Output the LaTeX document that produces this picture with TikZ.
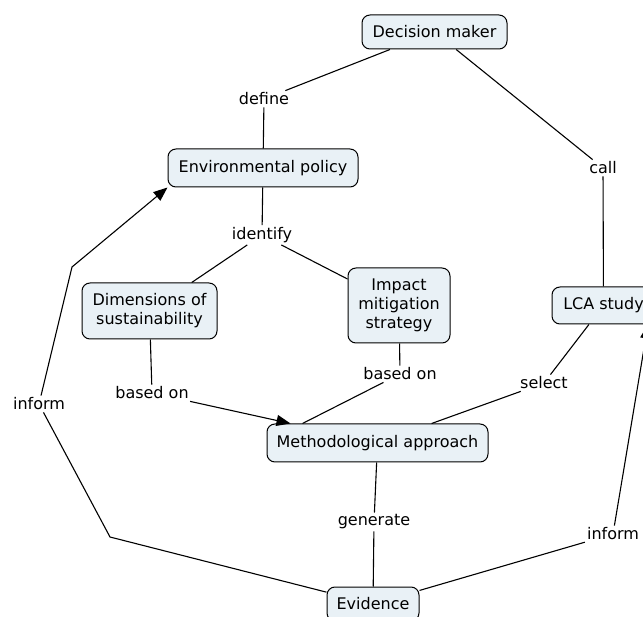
\documentclass[tikz,border=0pt]{standalone}
\usepackage{fontspec}
\setmainfont{DejaVu Sans}
\usetikzlibrary{arrows.meta}
\definecolor{boxfill}{RGB}{233,241,246}
\begin{document}
\begin{tikzpicture}[x=1pt,y=-1pt,
  concept/.style={draw=black, line width=1pt, fill=boxfill, rounded corners=8pt, inner sep=0pt, align=center, font=\fontsize{16}{19}\selectfont},
  lbl/.style={inner sep=2pt, font=\fontsize{16}{19}\selectfont},
  link/.style={line width=1.1pt, draw=black},
  arr/.style={link, -{Triangle[length=14pt,width=11pt]}}]
\useasboundingbox (0,0) rectangle (643,617);
% concepts
\node[concept, minimum width=145, minimum height=34] (dm) at (434.5,32) {Decision maker};
\node[concept, minimum width=190, minimum height=38] (ep) at (263,168) {Environmental policy};
\node[concept, minimum width=135, minimum height=56] (dim) at (149.5,311) {Dimensions of\\sustainability};
\node[concept, minimum width=102, minimum height=75] (ims) at (399,305.5) {Impact\\mitigation\\strategy};
\node[concept, minimum width=103, minimum height=37] (lca) at (603.5,305.5) {LCA study};
\node[concept, minimum width=221, minimum height=38] (ma) at (377.5,443) {Methodological approach};
\node[concept, minimum width=92, minimum height=34] (ev) at (373,604) {Evidence};
% link labels
\node[lbl] (define) at (264,99) {define};
\node[lbl] (identify) at (262,235) {identify};
\node[lbl] (call) at (603,168) {call};
\node[lbl] (basedL) at (152,393) {based on};
\node[lbl] (basedR) at (400,374) {based on};
\node[lbl] (select) at (544,383) {select};
\node[lbl] (informL) at (39,404) {inform};
\node[lbl] (generate) at (374,522) {generate};
\node[lbl] (informR) at (613,534) {inform};
% bend points and anchors
\coordinate (bendA) at (72,267);
\coordinate (bendB) at (110,537);
\coordinate (maL1) at ([xshift=24pt]ma.north west);
\coordinate (maL2) at ([xshift=36pt]ma.north west);
\coordinate (lcaIn) at ([xshift=44.5pt]lca.south);
% connectors
\draw[link] (dm) -- (define);
\draw[link] (define) -- (ep);
\draw[link] (ep) -- (identify);
\draw[link] (identify) -- (dim);
\draw[link] (identify) -- (ims);
\draw[link] (dm) -- (call);
\draw[link] (call) -- (lca);
\draw[link] (dim) -- (basedL);
\draw[arr] (basedL) -- (maL1);
\draw[link] (ims) -- (basedR);
\draw[link] (basedR) -- (maL2);
\draw[link] (lca) -- (select);
\draw[link] (select) -- (ma);
\draw[link] (ma) -- (generate);
\draw[link] (generate) -- (ev);
\draw[link] (ev) -- (bendB) -- (informL);
\draw[arr] (informL) -- (bendA) -- (ep.south west);
\draw[link] (ev) -- (informR);
\draw[arr] (informR) -- (lcaIn);
\end{tikzpicture}
\end{document}
